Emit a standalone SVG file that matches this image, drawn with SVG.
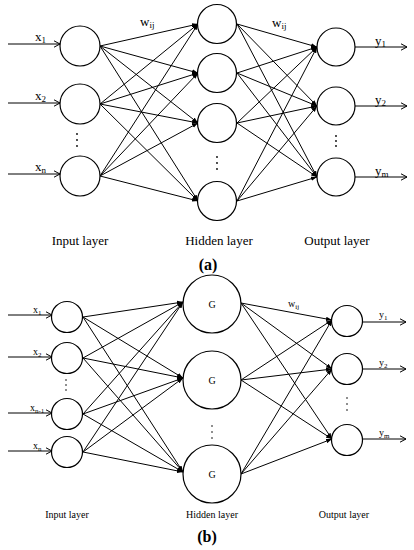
<svg xmlns="http://www.w3.org/2000/svg" width="414" height="550" viewBox="0 0 414 550">
<style>
.n{fill:#fff;stroke:#000;stroke-width:1.2}
.c line{stroke:#000;stroke-width:1}
.t{font-family:"Liberation Serif",serif;fill:#000}
.la{font-size:13px}
.lb{font-size:10px}
.sa{font-size:9px}
.sb{font-size:7px}
.d{fill:#000}
</style>
<defs>
<marker id="f" markerUnits="userSpaceOnUse" markerWidth="7" markerHeight="5" refX="6" refY="2.5" orient="auto"><path d="M0,0.3 L6,2.5 L0,4.7 Z" fill="#000"/></marker>
<marker id="o" markerUnits="userSpaceOnUse" markerWidth="8" markerHeight="8" refX="6" refY="4" orient="auto"><path d="M0,0.8 L6,4 L0,7.2" fill="none" stroke="#000" stroke-width="1"/></marker>
</defs>
<rect width="414" height="550" fill="#fff"/>
<g id="connectors-a" class="c">
<line x1="8" y1="44" x2="60" y2="44" marker-end="url(#o)"/>
<line x1="8" y1="103" x2="60" y2="103" marker-end="url(#o)"/>
<line x1="8" y1="174" x2="60" y2="174" marker-end="url(#o)"/>
<line x1="100" y1="46" x2="198" y2="24" marker-end="url(#f)"/>
<line x1="100" y1="46" x2="198" y2="73" marker-end="url(#f)"/>
<line x1="100" y1="46" x2="198" y2="123" marker-end="url(#f)"/>
<line x1="100" y1="46" x2="198" y2="201" marker-end="url(#f)"/>
<line x1="100" y1="104" x2="198" y2="24" marker-end="url(#f)"/>
<line x1="100" y1="104" x2="198" y2="73" marker-end="url(#f)"/>
<line x1="100" y1="104" x2="198" y2="123" marker-end="url(#f)"/>
<line x1="100" y1="104" x2="198" y2="201" marker-end="url(#f)"/>
<line x1="100" y1="176" x2="198" y2="24" marker-end="url(#f)"/>
<line x1="100" y1="176" x2="198" y2="73" marker-end="url(#f)"/>
<line x1="100" y1="176" x2="198" y2="123" marker-end="url(#f)"/>
<line x1="100" y1="176" x2="198" y2="201" marker-end="url(#f)"/>
<line x1="237" y1="24" x2="317" y2="47" marker-end="url(#f)"/>
<line x1="237" y1="24" x2="317" y2="106" marker-end="url(#f)"/>
<line x1="237" y1="24" x2="317" y2="177" marker-end="url(#f)"/>
<line x1="237" y1="73" x2="317" y2="47" marker-end="url(#f)"/>
<line x1="237" y1="73" x2="317" y2="106" marker-end="url(#f)"/>
<line x1="237" y1="73" x2="317" y2="177" marker-end="url(#f)"/>
<line x1="237" y1="123" x2="317" y2="47" marker-end="url(#f)"/>
<line x1="237" y1="123" x2="317" y2="106" marker-end="url(#f)"/>
<line x1="237" y1="123" x2="317" y2="177" marker-end="url(#f)"/>
<line x1="237" y1="201" x2="317" y2="47" marker-end="url(#f)"/>
<line x1="237" y1="201" x2="317" y2="106" marker-end="url(#f)"/>
<line x1="237" y1="201" x2="317" y2="177" marker-end="url(#f)"/>
<line x1="355" y1="47" x2="407" y2="47" marker-end="url(#o)"/>
<line x1="355" y1="106" x2="407" y2="106" marker-end="url(#o)"/>
<line x1="355" y1="177" x2="407" y2="177" marker-end="url(#o)"/>
</g>
<g id="input-a">
<circle class="n" cx="80" cy="46" r="20"/><circle class="n" cx="80" cy="104" r="20"/><circle class="n" cx="80" cy="176" r="20"/>
<circle class="d" cx="77" cy="134" r="0.9"/><circle class="d" cx="77" cy="140" r="0.9"/><circle class="d" cx="77" cy="146" r="0.9"/>
<text class="t la" x="35" y="41">x<tspan class="sa" dy="2">1</tspan></text>
<text class="t la" x="35" y="100">x<tspan class="sa" dy="2">2</tspan></text>
<text class="t la" x="35" y="171">x<tspan class="sa" dy="2">n</tspan></text>
</g>
<g id="hidden-a">
<circle class="n" cx="217" cy="24" r="19.5"/><circle class="n" cx="217" cy="73" r="19.5"/><circle class="n" cx="217" cy="123" r="19.5"/><circle class="n" cx="217" cy="201" r="19.5"/>
<circle class="d" cx="217" cy="157" r="0.9"/><circle class="d" cx="217" cy="163" r="0.9"/><circle class="d" cx="217" cy="169" r="0.9"/>
<text class="t la" x="140" y="26">w<tspan class="sa" dy="2">ij</tspan></text>
<text class="t la" x="272" y="27">w<tspan class="sa" dy="2">ij</tspan></text>
</g>
<g id="output-a">
<circle class="n" cx="336" cy="47" r="19"/><circle class="n" cx="336" cy="106" r="19"/><circle class="n" cx="336" cy="177" r="19"/>
<circle class="d" cx="336" cy="136" r="0.9"/><circle class="d" cx="336" cy="141" r="0.9"/><circle class="d" cx="336" cy="146" r="0.9"/>
<text class="t la" x="375" y="45">y<tspan class="sa" dy="2">1</tspan></text>
<text class="t la" x="375" y="104">y<tspan class="sa" dy="2">2</tspan></text>
<text class="t la" x="375" y="175">y<tspan class="sa" dy="2">m</tspan></text>
</g>
<g id="labels-a">
<text class="t la" x="80" y="245" text-anchor="middle">Input layer</text>
<text class="t la" x="219" y="245" text-anchor="middle">Hidden layer</text>
<text class="t la" x="337" y="245" text-anchor="middle">Output layer</text>
<text class="t" x="208" y="270" text-anchor="middle" font-size="16" font-weight="bold">(a)</text>
</g>
<g id="connectors-b" class="c">
<line x1="8" y1="315" x2="52" y2="315" marker-end="url(#o)"/>
<line x1="8" y1="357" x2="52" y2="357" marker-end="url(#o)"/>
<line x1="8" y1="413" x2="52" y2="413" marker-end="url(#o)"/>
<line x1="8" y1="451" x2="52" y2="451" marker-end="url(#o)"/>
<line x1="83" y1="317" x2="183" y2="302" marker-end="url(#f)"/>
<line x1="83" y1="317" x2="183" y2="378" marker-end="url(#f)"/>
<line x1="83" y1="317" x2="183" y2="472" marker-end="url(#f)"/>
<line x1="83" y1="358" x2="183" y2="302" marker-end="url(#f)"/>
<line x1="83" y1="358" x2="183" y2="378" marker-end="url(#f)"/>
<line x1="83" y1="358" x2="183" y2="472" marker-end="url(#f)"/>
<line x1="83" y1="414" x2="183" y2="302" marker-end="url(#f)"/>
<line x1="83" y1="414" x2="183" y2="378" marker-end="url(#f)"/>
<line x1="83" y1="414" x2="183" y2="472" marker-end="url(#f)"/>
<line x1="83" y1="452" x2="183" y2="302" marker-end="url(#f)"/>
<line x1="83" y1="452" x2="183" y2="378" marker-end="url(#f)"/>
<line x1="83" y1="452" x2="183" y2="472" marker-end="url(#f)"/>
<line x1="241" y1="303" x2="332" y2="320" marker-end="url(#f)"/>
<line x1="241" y1="303" x2="332" y2="369" marker-end="url(#f)"/>
<line x1="241" y1="303" x2="332" y2="439" marker-end="url(#f)"/>
<line x1="241" y1="380" x2="332" y2="320" marker-end="url(#f)"/>
<line x1="241" y1="380" x2="332" y2="369" marker-end="url(#f)"/>
<line x1="241" y1="380" x2="332" y2="439" marker-end="url(#f)"/>
<line x1="241" y1="474" x2="332" y2="320" marker-end="url(#f)"/>
<line x1="241" y1="474" x2="332" y2="369" marker-end="url(#f)"/>
<line x1="241" y1="474" x2="332" y2="439" marker-end="url(#f)"/>
<line x1="363" y1="322" x2="406" y2="322" marker-end="url(#o)"/>
<line x1="363" y1="369" x2="406" y2="369" marker-end="url(#o)"/>
<line x1="363" y1="439" x2="406" y2="439" marker-end="url(#o)"/>
</g>
<g id="input-b">
<circle class="n" cx="67" cy="317" r="15.5"/><circle class="n" cx="67" cy="358" r="15.5"/><circle class="n" cx="67" cy="414" r="15.5"/><circle class="n" cx="67" cy="452" r="15.5"/>
<circle class="d" cx="66" cy="380" r="0.8"/><circle class="d" cx="66" cy="385" r="0.8"/><circle class="d" cx="66" cy="390" r="0.8"/>
<text class="t lb" x="33" y="313">x<tspan class="sb" dy="2">1</tspan></text>
<text class="t lb" x="33" y="355">x<tspan class="sb" dy="2">2</tspan></text>
<text class="t lb" x="30" y="411">x<tspan class="sb" dy="2">n-1</tspan></text>
<text class="t lb" x="33" y="449">x<tspan class="sb" dy="2">n</tspan></text>
</g>
<g id="hidden-b">
<circle class="n" cx="212" cy="304" r="29"/><circle class="n" cx="212" cy="380" r="29"/><circle class="n" cx="212" cy="474" r="29"/>
<text class="t lb" x="212" y="308" text-anchor="middle">G</text>
<text class="t lb" x="212" y="384" text-anchor="middle">G</text>
<text class="t lb" x="212" y="478" text-anchor="middle">G</text>
<circle class="d" cx="212" cy="426" r="0.8"/><circle class="d" cx="212" cy="432" r="0.8"/><circle class="d" cx="212" cy="438" r="0.8"/>
<text class="t lb" x="288" y="307">w<tspan class="sb" dy="2">ij</tspan></text>
</g>
<g id="output-b">
<circle class="n" cx="347" cy="321" r="15.5"/><circle class="n" cx="347" cy="369" r="15.5"/><circle class="n" cx="347" cy="440" r="15.5"/>
<circle class="d" cx="347" cy="398" r="0.8"/><circle class="d" cx="347" cy="404" r="0.8"/><circle class="d" cx="347" cy="410" r="0.8"/>
<text class="t lb" x="379" y="318">y<tspan class="sb" dy="2">1</tspan></text>
<text class="t lb" x="379" y="366">y<tspan class="sb" dy="2">2</tspan></text>
<text class="t lb" x="379" y="436">y<tspan class="sb" dy="2">m</tspan></text>
</g>
<g id="labels-b">
<text class="t lb" x="67" y="518" text-anchor="middle">Input layer</text>
<text class="t lb" x="212" y="518" text-anchor="middle">Hidden layer</text>
<text class="t lb" x="344" y="518" text-anchor="middle">Output layer</text>
<text class="t" x="207" y="542" text-anchor="middle" font-size="16" font-weight="bold">(b)</text>
</g>
</svg>
